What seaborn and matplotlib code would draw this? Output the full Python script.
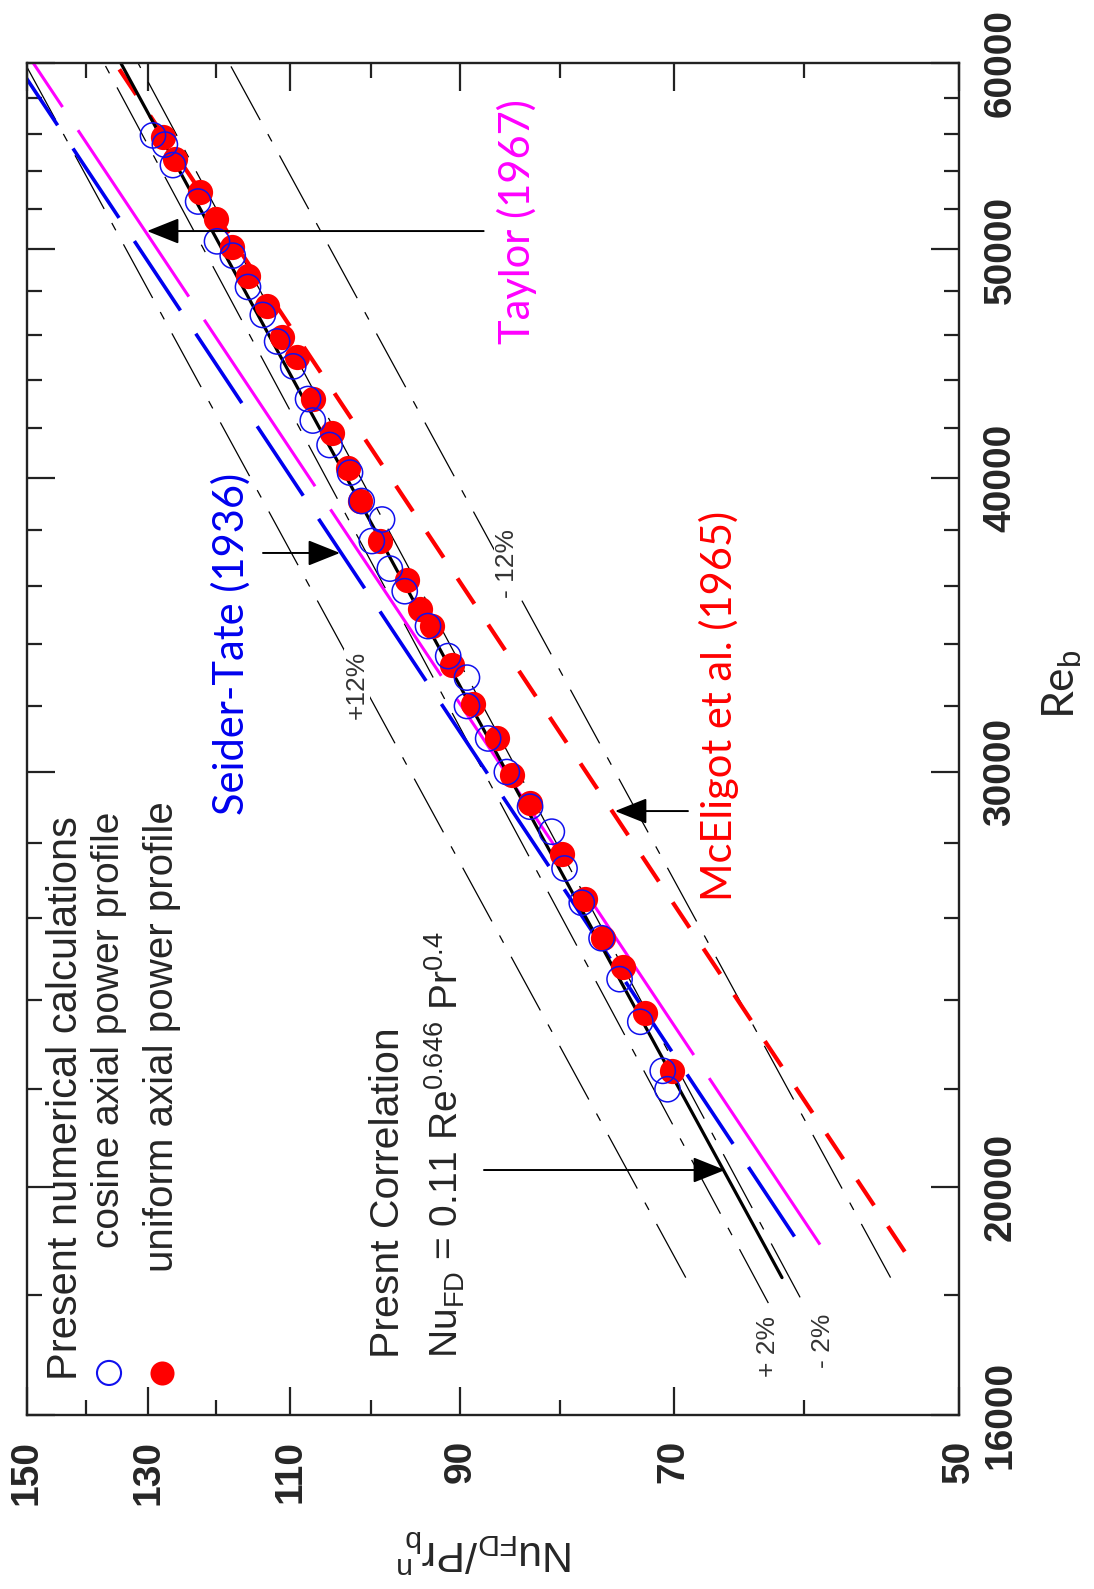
import matplotlib
matplotlib.use("Agg")
import matplotlib.pyplot as plt
from matplotlib.ticker import NullFormatter
import seaborn as sns

# Present numerical calculations: Re_b and Nu_FD/Pr_b^n
cosine_re = [55900, 55400, 54300, 52400, 50400, 49700, 48200, 46900, 45700, 44600,
             43200, 42300, 41300, 40200, 39100, 38400, 37600, 36600, 35800, 34600,
             33600, 32900, 32000, 31000, 30000, 29000, 28300, 27300, 26400, 25500,
             24500, 23500, 22400, 22000]
cosine_nu = [129.3, 127.5, 126.3, 122.6, 119.9, 117.7, 115.6, 113.6, 111.7, 109.6,
             107.7, 107.1, 105.0, 102.5, 101.1, 98.7, 99.9, 97.8, 96.1, 93.5,
             91.3, 89.3, 89.3, 87.1, 85.2, 82.9, 80.8, 79.6, 78.0, 76.2,
             74.6, 72.8, 70.9, 70.5]

uniform_re = [55800, 54600, 52900, 51500, 50100, 48700, 47300, 45900, 45000, 43200,
              41800, 40400, 39100, 37600, 36200, 35200, 34600, 33300, 32050, 31000,
              29900, 29100, 27700, 26500, 25500, 24800, 23700, 22400]
uniform_nu = [127.8, 126.0, 122.3, 120.0, 117.8, 115.6, 113.0, 111.1, 109.1, 107.1,
              104.7, 102.7, 101.3, 98.9, 95.8, 94.4, 93.1, 90.9, 88.7, 86.2,
              84.7, 82.9, 79.8, 77.7, 76.1, 74.3, 72.4, 70.1]

# correlation lines (end points)
present_re = [18300, 60000]
present_nu = [61.6, 134.3]
plus2_re = [17850, 60000]
plus2_nu = [62.6, 137.0]
minus2_re = [17950, 60000]
minus2_nu = [60.3, 131.6]
plus12_re = [18300, 60000]
plus12_nu = [69.0, 150.4]
minus12_re = [18300, 60000]
minus12_nu = [54.2, 118.2]
seider_re = [19050, 60000]
seider_nu = [60.7, 151.9]
taylor_re = [18900, 60000]
taylor_nu = [58.9, 148.9]
mceligot_re = [18770, 60000]
mceligot_nu = [53.3, 135.2]

nu_ticks = [150, 130, 110, 90, 70, 50]
nu_minor = [140, 120, 100, 80, 60]
re_ticks = [16000, 20000, 30000, 40000, 50000, 60000]
re_minor = [18000, 22000, 24000, 26000, 28000, 32000, 34000, 36000, 38000,
            42000, 44000, 46000, 48000, 52000, 54000, 56000, 58000]

sns.set_style("white")
plt.rcParams["font.family"] = ["Liberation Sans", "DejaVu Sans"]
plt.rcParams["mathtext.fontset"] = "custom"
plt.rcParams["mathtext.rm"] = "Liberation Sans"
plt.rcParams["mathtext.it"] = "Liberation Sans:italic"
plt.rcParams["lines.scale_dashes"] = False

fig = plt.figure(figsize=(10.94, 15.89), dpi=100)
ax = fig.add_axes([27 / 1094, 1 - 1415 / 1589, 932 / 1094, 1352 / 1589])

# the whole chart is turned on its side: x = Nu (log, reversed), y = Re (log)
dashdot = (0, (44, 11.5, 6, 11.5))
line_specs = [
    (plus12_nu, plus12_re, "black", 0.9, dashdot),
    (minus12_nu, minus12_re, "black", 0.9, dashdot),
    (plus2_nu, plus2_re, "black", 0.9, dashdot),
    (minus2_nu, minus2_re, "black", 0.9, dashdot),
    (seider_nu, seider_re, "#0000ee", 2.6, (0, (60, 20))),
    (taylor_nu, taylor_re, "#ff00ff", 2.2, (0, (144, 20))),
    (mceligot_nu, mceligot_re, "#ff0000", 3.0, (0, (22, 18))),
    (present_nu, present_re, "black", 2.3, "-"),
]
for xs, ys, col, lw, ls in line_specs:
    sns.lineplot(x=xs, y=ys, color=col, lw=lw, linestyle=ls, sort=False,
                 estimator=None, ax=ax, zorder=2)

sns.scatterplot(x=uniform_nu, y=uniform_re, color="#ff0000", s=330, linewidth=0,
                ax=ax, zorder=3, legend=False)
sns.scatterplot(x=cosine_nu, y=cosine_re, color="#1010ee", facecolors="none",
                edgecolor="#1010ee", s=330, linewidth=1.1, ax=ax, zorder=4,
                legend=False)

ax.set_xscale("log")
ax.set_yscale("log")
ax.set_xticks(nu_ticks, labels=[str(v) for v in nu_ticks], rotation=90,
              fontsize=28, fontweight="bold")
ax.set_xticks(nu_minor, minor=True)
ax.set_yticks(re_ticks, labels=[str(v) for v in re_ticks], rotation=90,
              va="center", fontsize=28, fontweight="bold")
ax.set_yticks(re_minor, minor=True)
ax.xaxis.set_minor_formatter(NullFormatter())
ax.yaxis.set_minor_formatter(NullFormatter())
ax.set_xlim(150, 50)
ax.set_ylim(16000, 60000)

ax.tick_params(which="both", direction="in", top=True, bottom=True, left=True,
               right=True, labelleft=False, labelright=True, width=1.6,
               color="#222222")
ax.tick_params(which="major", length=20)
ax.tick_params(which="minor", length=11)
ax.tick_params(axis="x", pad=18)
ax.tick_params(axis="y", pad=17)
for sp in ax.spines.values():
    sp.set_linewidth(1.7)
    sp.set_color("#222222")

ax.set_xlabel(r"Nu$_{\mathrm{FD}}$/Pr$_{\mathrm{b}}^{\ \mathrm{n}}$", rotation=180,
              fontsize=31)
ax.xaxis.set_label_coords(0.4914, -0.1005)
ax.xaxis.label.set_va("center")
ax.yaxis.set_label_position("right")
ax.set_ylabel(r"Re$_{\mathrm{b}}$", rotation=90, fontsize=32, family="Lato")
ax.yaxis.set_label_coords(1.1105, 0.5407)
ax.yaxis.label.set_va("center")
ax.yaxis.label.set_ha("center")

# legend and annotations (all written sideways)
tr = ax.transAxes
ax.text(0.0418, 0.0259, "Present numerical calculations", transform=tr,
        rotation=90, ha="center", va="bottom", fontsize=30)
ax.text(0.0880, 0.1235, "cosine axial power profile", transform=tr,
        rotation=90, ha="center", va="bottom", fontsize=28)
ax.text(0.1449, 0.1058, "uniform axial power profile", transform=tr,
        rotation=90, ha="center", va="bottom", fontsize=29)
ax.scatter([0.088], [0.0311], s=300, facecolors="none", edgecolors="#1010ee",
           linewidths=1.5, transform=tr, clip_on=False, zorder=5)
ax.scatter([0.1449], [0.0311], s=300, color="#ff0000", linewidths=0,
           transform=tr, clip_on=False, zorder=5)

ax.text(0.3873, 0.0422, "Presnt Correlation", transform=tr, rotation=90,
        ha="center", va="bottom", fontsize=29.5)
ax.text(0.4485, 0.0422,
        r"Nu$_{\mathrm{FD}}$ = 0.11 Re$^{\mathrm{0.646}}$ Pr$^{\mathrm{0.4}}$",
        transform=tr, rotation=90, ha="center", va="bottom", fontsize=28)

ax.text(0.2189, 0.4438, "Seider-Tate (1936)", transform=tr, rotation=90,
        ha="center", va="bottom", fontsize=30, color="#0000ee", family="Lato")
ax.text(0.5258, 0.7922, "Taylor (1967)", transform=tr, rotation=90,
        ha="center", va="bottom", fontsize=30, color="#ff00ff", family="Lato")
ax.text(0.7425, 0.3802, "McEligot et al. (1965)", transform=tr, rotation=90,
        ha="center", va="bottom", fontsize=30, color="#ff0000", family="Lato")

box = dict(facecolor="white", edgecolor="none", pad=1)
for x, y, s in [(0.3541, 0.540, "+12%"), (0.515, 0.630, "- 12%"),
                (0.795, 0.0503, "+ 2%"), (0.854, 0.0547, "- 2%")]:
    ax.text(x, y, s, transform=tr, rotation=90, ha="center", va="center",
            fontsize=19, color="#333333", bbox=box, zorder=5)

arrow = dict(arrowstyle="-|>,head_length=1.0,head_width=0.4", color="black",
             lw=1.4, mutation_scale=20, shrinkA=0, shrinkB=0)
for start, tip in [((0.490, 0.8757), (0.1288, 0.8757)),
                   ((0.2532, 0.6376), (0.3358, 0.6376)),
                   ((0.7092, 0.4467), (0.6309, 0.4467)),
                   ((0.4903, 0.1812), (0.7489, 0.1812))]:
    ax.annotate("", xy=tip, xytext=start, xycoords=tr, textcoords=tr,
                arrowprops=arrow, zorder=6)

fig.savefig("out.png", dpi=100)
